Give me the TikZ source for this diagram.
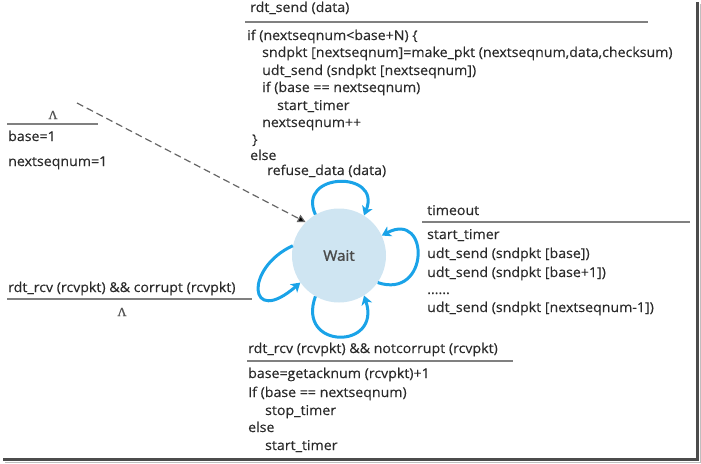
\documentclass[tikz,border=0pt]{standalone}
\usepackage{fontspec}
\setmainfont{Open Sans}[FakeStretch=1.05,FakeBold=0.3]
\newfontfamily\lamfont{Liberation Serif}[FakeBold=1.5]
\usetikzlibrary{arrows.meta}
\definecolor{txt}{HTML}{2A2A2A}
\definecolor{rule}{HTML}{808080}
\definecolor{loopblue}{HTML}{1AA3E8}
\definecolor{statefill}{HTML}{CFE5F2}
\begin{document}
\begin{tikzpicture}[x=1pt,y=-1pt,
  lbl/.style={anchor=base west,inner sep=0pt,text=txt,font=\fontsize{13.5}{16}\selectfont},
  lam/.style={anchor=center,inner sep=0pt,text=txt!80,font=\lamfont\fontsize{12.5}{14}\selectfont},
  sep/.style={draw=rule,line width=1.4pt},
  loopline/.style={draw=loopblue,line width=3pt,-{Stealth[length=9pt,width=11pt,inset=2.5pt]}}
]
\useasboundingbox (0,0) rectangle (701,463);
% frame shadow
\draw[draw=black!70,line width=2.5pt] (697.5,2) coordinate (fa) -- (697.5,459.5) coordinate (fb) -- (3,459.5) coordinate (fc);
\draw[draw=black!25,line width=1pt] (700,4) coordinate (fd) -- (700,462) coordinate (fe) -- (5,462) coordinate (ff);

% state
\node[circle,fill=statefill,minimum size=94pt,inner sep=0pt,text=txt!85,font=\fontsize{14.5}{16}\selectfont\addfontfeature{FakeBold=1.5}] (wait) at (339,255.5) {Wait};

% top block
\node[lbl] (t0) at (250,12) {rdt\_send (data)};
\coordinate (t0a) at (245,22);
\coordinate (t0b) at (648,22);
\draw[sep] (t0a) -- (t0b);
\node[lbl] (t1) at (247,40) {if (nextseqnum{<}base{+}N) \{};
\node[lbl] (t2) at (262,57) {sndpkt [nextseqnum]=make\_pkt (nextseqnum,data,checksum)};
\node[lbl] (t3) at (262,75) {udt\_send (sndpkt [nextseqnum])};
\node[lbl] (t4) at (262,92) {if (base == nextseqnum)};
\node[lbl] (t5) at (277,110) {start\_timer};
\node[lbl] (t6) at (262,127) {nextseqnum++};
\node[lbl] (t7) at (252,144) {\}};
\node[lbl] (t8) at (250,160) {else};
\node[lbl] (t9) at (267,175) {refuse\_data (data)};

% initial
\node[lam] (l0) at (53,115) {Λ};
\coordinate (l0a) at (7,124);
\coordinate (l0b) at (98,124);
\draw[sep] (l0a) -- (l0b);
\node[lbl] (l1) at (8,141) {base=1};
\node[lbl] (l2) at (8,166) {nextseqnum=1};
\coordinate (init) at (77,103);
\draw[draw=black!60,line width=1.2pt,dash pattern=on 7pt off 4pt,-{Triangle[length=8pt,width=8pt,fill=black]}] (init) -- (wait.135);

% left label
\node[lbl] (c0) at (8,292) {rdt\_rcv (rcvpkt) \&\& corrupt (rcvpkt)};
\coordinate (c0a) at (7,299);
\coordinate (c0b) at (252,299);
\draw[sep] (c0a) -- (c0b);
\node[lam] (c1) at (122,312) {Λ};

% right block
\node[lbl] (r0) at (427,215) {timeout};
\coordinate (r0a) at (422,222);
\coordinate (r0b) at (690,222);
\draw[sep] (r0a) -- (r0b);
\node[lbl] (r1) at (427,239) {start\_timer};
\node[lbl] (r2) at (427,258) {udt\_send (sndpkt [base])};
\node[lbl] (r3) at (427,277) {udt\_send (sndpkt [base+1])};
\node[lbl] (r4) at (427,294) {......};
\node[lbl] (r5) at (427,312) {udt\_send (sndpkt [nextseqnum-1])};

% bottom block
\node[lbl] (b0) at (248,353) {rdt\_rcv (rcvpkt) \&\& notcorrupt (rcvpkt)};
\coordinate (b0a) at (247,361);
\coordinate (b0b) at (513,361);
\draw[sep] (b0a) -- (b0b);
\node[lbl] (b1) at (248,378) {base=getacknum (rcvpkt)+1};
\node[lbl] (b2) at (248,397) {If (base == nextseqnum)};
\node[lbl] (b3) at (265,415) {stop\_timer};
\node[lbl] (b4) at (248,432) {else};
\node[lbl] (b5) at (265,450) {start\_timer};

% self loops
\draw[loopline] (wait.120) .. controls (296,172) and (382,170) .. (wait.58);
\draw[loopline] (wait.-35) .. controls (430,300) and (430,210) .. (wait.25);
\draw[loopline] (wait.-120) .. controls (296,350) and (382,350) .. (wait.-58);
\draw[loopline] (wait.168) .. controls (244,268) and (248,328) .. (wait.-145);
\end{tikzpicture}
\end{document}
